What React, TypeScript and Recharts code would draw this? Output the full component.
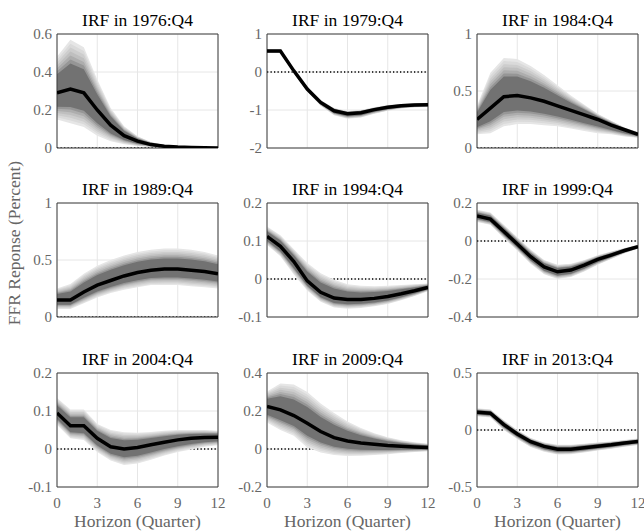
import React from 'react';
import { ComposedChart, Area, Line, XAxis, YAxis, CartesianGrid, ReferenceArea } from 'recharts';

const HORIZON = [0, 1, 2, 3, 4, 5, 6, 7, 8, 9, 10, 11, 12];
const X_TICKS = [0, 3, 6, 9, 12];

const TITLES = [
  'IRF in 1976:Q4', 'IRF in 1979:Q4', 'IRF in 1984:Q4',
  'IRF in 1989:Q4', 'IRF in 1994:Q4', 'IRF in 1999:Q4',
  'IRF in 2004:Q4', 'IRF in 2009:Q4', 'IRF in 2013:Q4',
];

// 1976:Q4
const MED_1976 = [0.29, 0.31, 0.29, 0.2, 0.12, 0.065, 0.036, 0.018, 0.009, 0.005, 0.003, 0.001, 0.0];
const HI_1976 = [0.48, 0.57, 0.53, 0.36, 0.21, 0.115, 0.062, 0.032, 0.016, 0.008, 0.004, 0.002, 0.001];
const LO_1976 = [0.15, 0.13, 0.11, 0.065, 0.036, 0.02, 0.01, 0.005, 0.002, 0.001, 0.0, 0.0, 0.0];
const YT_1976 = [0, 0.2, 0.4, 0.6];

// 1979:Q4
const MED_1979 = [0.55, 0.55, 0.03, -0.45, -0.8, -1.02, -1.1, -1.07, -0.99, -0.93, -0.89, -0.87, -0.86];
const HI_1979 = [0.6, 0.6, 0.08, -0.4, -0.74, -0.95, -1.03, -1.0, -0.93, -0.87, -0.84, -0.82, -0.81];
const LO_1979 = [0.5, 0.5, -0.03, -0.52, -0.89, -1.14, -1.23, -1.2, -1.1, -1.02, -0.96, -0.93, -0.92];
const YT_1979 = [-2, -1, 0, 1];

// 1984:Q4
const MED_1984 = [0.25, 0.35, 0.45, 0.46, 0.44, 0.41, 0.37, 0.33, 0.29, 0.25, 0.2, 0.16, 0.12];
const HI_1984 = [0.37, 0.66, 0.79, 0.78, 0.72, 0.64, 0.55, 0.46, 0.38, 0.3, 0.24, 0.18, 0.14];
const LO_1984 = [0.12, 0.13, 0.19, 0.21, 0.21, 0.2, 0.19, 0.17, 0.15, 0.13, 0.12, 0.1, 0.09];
const YT_1984 = [0, 0.5, 1];

// 1989:Q4
const MED_1989 = [0.15, 0.15, 0.22, 0.28, 0.32, 0.36, 0.39, 0.41, 0.42, 0.42, 0.41, 0.4, 0.38];
const HI_1989 = [0.25, 0.29, 0.38, 0.45, 0.5, 0.54, 0.57, 0.59, 0.6, 0.6, 0.59, 0.57, 0.54];
const LO_1989 = [0.07, 0.07, 0.12, 0.17, 0.21, 0.24, 0.26, 0.28, 0.28, 0.28, 0.27, 0.26, 0.25];
const YT_1989 = [0, 0.5, 1];

// 1994:Q4
const MED_1994 = [0.112, 0.086, 0.046, -0.005, -0.035, -0.05, -0.054, -0.054, -0.051, -0.046, -0.039, -0.031, -0.022];
const HI_1994 = [0.138, 0.115, 0.078, 0.042, 0.015, -0.002, -0.014, -0.018, -0.019, -0.018, -0.016, -0.014, -0.012];
const LO_1994 = [0.09, 0.06, 0.012, -0.03, -0.06, -0.075, -0.078, -0.076, -0.072, -0.066, -0.056, -0.045, -0.032];
const YT_1994 = [-0.1, 0, 0.1, 0.2];

// 1999:Q4
const MED_1999 = [0.132, 0.115, 0.05, -0.016, -0.083, -0.136, -0.162, -0.153, -0.127, -0.097, -0.074, -0.05, -0.03];
const HI_1999 = [0.165, 0.15, 0.085, 0.02, -0.045, -0.1, -0.125, -0.12, -0.1, -0.075, -0.055, -0.037, -0.02];
const LO_1999 = [0.1, 0.085, 0.015, -0.05, -0.12, -0.175, -0.2, -0.19, -0.16, -0.125, -0.095, -0.065, -0.04];
const YT_1999 = [-0.4, -0.2, 0, 0.2];

// 2004:Q4
const MED_2004 = [0.095, 0.061, 0.061, 0.028, 0.006, 0.0, 0.004, 0.011, 0.018, 0.024, 0.028, 0.03, 0.031];
const HI_2004 = [0.134, 0.104, 0.104, 0.066, 0.05, 0.044, 0.043, 0.045, 0.048, 0.05, 0.05, 0.05, 0.048];
const LO_2004 = [0.064, 0.028, 0.024, -0.008, -0.03, -0.042, -0.038, -0.028, -0.017, -0.008, -0.001, 0.006, 0.01];
const YT_2004 = [-0.1, 0, 0.1, 0.2];

// 2009:Q4
const MED_2009 = [0.224, 0.206, 0.176, 0.136, 0.092, 0.06, 0.042, 0.032, 0.025, 0.019, 0.015, 0.011, 0.008];
const HI_2009 = [0.303, 0.345, 0.339, 0.3, 0.24, 0.19, 0.145, 0.11, 0.083, 0.062, 0.046, 0.035, 0.028];
const LO_2009 = [0.14, 0.1, 0.07, 0.008, -0.018, -0.032, -0.037, -0.036, -0.032, -0.027, -0.021, -0.016, -0.012];
const YT_2009 = [-0.2, 0, 0.2, 0.4];

// 2013:Q4
const MED_2013 = [0.156, 0.147, 0.047, -0.035, -0.103, -0.144, -0.168, -0.168, -0.155, -0.142, -0.13, -0.115, -0.1];
const HI_2013 = [0.19, 0.18, 0.085, 0.0, -0.07, -0.11, -0.13, -0.13, -0.12, -0.11, -0.1, -0.088, -0.075];
const LO_2013 = [0.12, 0.11, 0.0, -0.08, -0.15, -0.19, -0.215, -0.212, -0.197, -0.18, -0.165, -0.148, -0.132];
const YT_2013 = [-0.5, 0, 0.5];

const FAN_LEVELS = [1, 0.92, 0.84, 0.76, 0.68, 0.6, 0.52];
const FAN_COLORS = ['#e6e6e6', '#dadada', '#cdcdcd', '#bfbfbf', '#adadad', '#969696', '#727272'];

const PANELS = [
  { med: MED_1976, hi: HI_1976, lo: LO_1976, yTicks: YT_1976 },
  { med: MED_1979, hi: HI_1979, lo: LO_1979, yTicks: YT_1979 },
  { med: MED_1984, hi: HI_1984, lo: LO_1984, yTicks: YT_1984 },
  { med: MED_1989, hi: HI_1989, lo: LO_1989, yTicks: YT_1989 },
  { med: MED_1994, hi: HI_1994, lo: LO_1994, yTicks: YT_1994 },
  { med: MED_1999, hi: HI_1999, lo: LO_1999, yTicks: YT_1999 },
  { med: MED_2004, hi: HI_2004, lo: LO_2004, yTicks: YT_2004 },
  { med: MED_2009, hi: HI_2009, lo: LO_2009, yTicks: YT_2009 },
  { med: MED_2013, hi: HI_2013, lo: LO_2013, yTicks: YT_2013 },
];

const FONT = '"Liberation Serif", "Times New Roman", serif';
const PLOT_LEFT = [57, 267, 477];
const PLOT_TOP = [34, 203, 373];
const PLOT_W = 161;
const PLOT_H = 114;
const Y_AXIS_W = 50;
const X_AXIS_H = 30;
const M_TOP = 10;
const M_RIGHT = 10;

function buildRows(p: { med: number[]; hi: number[]; lo: number[] }) {
  return HORIZON.map((h, i) => {
    const m = p.med[i];
    const row: any = { h, med: m, zero: 0 };
    FAN_LEVELS.forEach((f, k) => {
      row['b' + k] = [m - f * (m - p.lo[i]), m + f * (p.hi[i] - m)];
    });
    return row;
  });
}

function Panel({ idx }: { idx: number }) {
  const p = PANELS[idx];
  const col = idx % 3;
  const row = Math.floor(idx / 3);
  const rows = buildRows(p);
  const yMin = p.yTicks[0];
  const yMax = p.yTicks[p.yTicks.length - 1];
  const showX = row === 2;
  const left = PLOT_LEFT[col];
  const top = PLOT_TOP[row];
  const tickStyle = { fill: '#666666', fontSize: 15, fontFamily: FONT };
  return (
    <>
      <div
        style={{
          position: 'absolute', left, top: top - 7.5 - 14.6, width: PLOT_W,
          textAlign: 'center', fontFamily: FONT, fontSize: 17.5, lineHeight: 1, color: '#000',
          whiteSpace: 'nowrap',
        }}
      >
        {TITLES[idx]}
      </div>
      <div style={{ position: 'absolute', left: left - Y_AXIS_W, top: top - M_TOP }}>
        <ComposedChart
          width={Y_AXIS_W + PLOT_W + M_RIGHT}
          height={M_TOP + PLOT_H + X_AXIS_H}
          data={rows}
          margin={{ top: M_TOP, right: M_RIGHT, bottom: 0, left: 0 }}
        >
          <CartesianGrid stroke="#e6e6e6" strokeWidth={1} />
          <XAxis
            dataKey="h"
            type="number"
            domain={[0, 12]}
            ticks={X_TICKS}
            allowDataOverflow
            axisLine={false}
            tickLine={false}
            tickSize={0}
            tickMargin={10}
            height={X_AXIS_H}
            tick={tickStyle}
            tickFormatter={(v: number) => (showX ? String(v) : '')}
          />
          <YAxis
            type="number"
            domain={[yMin, yMax]}
            ticks={p.yTicks}
            allowDataOverflow
            axisLine={false}
            tickLine={false}
            tickSize={0}
            tickMargin={5}
            width={Y_AXIS_W}
            tick={tickStyle}
            interval={0}
          />
          <Area
            dataKey="zero"
            type="linear"
            stroke="#000"
            strokeWidth={1.3}
            strokeDasharray="1.3 2.2"
            fill="none"
            isAnimationActive={false}
            dot={false}
            activeDot={false}
          />
          {FAN_LEVELS.map((_, k) => (
            <Area
              key={k}
              dataKey={'b' + k}
              type="linear"
              stroke="none"
              fill={FAN_COLORS[k]}
              fillOpacity={1}
              isAnimationActive={false}
              dot={false}
              activeDot={false}
            />
          ))}
          <Line
            dataKey="med"
            type="linear"
            stroke="#000"
            strokeWidth={3.5}
            dot={false}
            activeDot={false}
            isAnimationActive={false}
          />
          <ReferenceArea
            x1={0}
            x2={12}
            y1={yMin}
            y2={yMax}
            fill="none"
            stroke="#3c3c3c"
            strokeWidth={1}
            ifOverflow="visible"
          />
        </ComposedChart>
      </div>
      {showX && (
        <div
          style={{
            position: 'absolute', left, top: 512.5, width: PLOT_W,
            textAlign: 'center', fontFamily: FONT, fontSize: 17.5, lineHeight: 1, color: '#666666',
            whiteSpace: 'nowrap',
          }}
        >
          Horizon (Quarter)
        </div>
      )}
    </>
  );
}

export default function App() {
  return (
    <div
      style={{
        position: 'absolute', left: 0, top: 0, width: 644, height: 531,
        background: '#fff', overflow: 'hidden',
      }}
    >
      <div
        style={{
          position: 'absolute', left: 15, top: 243,
          transform: 'translate(-50%, -50%) rotate(-90deg)',
          fontFamily: FONT, fontSize: 17.5, lineHeight: 1, color: '#666666', whiteSpace: 'nowrap',
        }}
      >
        FFR Reponse (Percent)
      </div>
      {PANELS.map((_, i) => (
        <Panel key={i} idx={i} />
      ))}
    </div>
  );
}
